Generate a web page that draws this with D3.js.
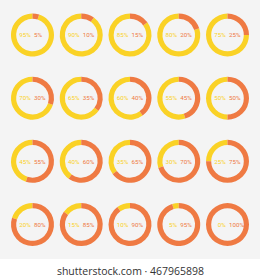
<!DOCTYPE html>
<html>
<head>
<meta charset="utf-8">
<script src="https://cdn.jsdelivr.net/npm/d3@7"></script>
<style>
  body { margin: 0; background: #fff; }
  svg { display: block; }
</style>
</head>
<body>
<div id="chart"></div>
<script>
// orange share of each ring, in reading order
var percents = [5, 10, 15, 20, 25, 30, 35, 40, 45, 50, 55, 60, 65, 70, 75, 80, 85, 90, 95, 100];
var cols = [0, 1, 2, 3, 4];
var rows = [0, 1, 2, 3];
var footer = "shutterstock.com \u00b7 467965898";

var width = 260, height = 280;
var yellow = "#fad226", orange = "#ef7a43";

var svg = d3.select("#chart").append("svg")
    .attr("width", width)
    .attr("height", height);

svg.append("rect")
    .attr("width", width)
    .attr("height", 259)
    .attr("fill", "#f4f4f4");

var x = d3.scalePoint().domain(cols).range([32.5, 227.5]);
var y = d3.scalePoint().domain(rows).range([35, 224.5]);
var angle = d3.scaleLinear().domain([0, 100]).range([0, 2 * Math.PI]);

var arc = d3.arc()
    .innerRadius(16.3)
    .outerRadius(21.5);

var rings = svg.selectAll("g.ring")
    .data(percents)
    .enter().append("g")
    .attr("class", "ring")
    .attr("transform", function(d, i) {
        return "translate(" + x(i % 5) + "," + y(Math.floor(i / 5)) + ")";
    });

// yellow part (remainder)
rings.append("path")
    .attr("fill", yellow)
    .attr("d", function(d) {
        return arc({ startAngle: angle(d), endAngle: 2 * Math.PI });
    });

// orange part starting at 12 o'clock
rings.append("path")
    .attr("fill", orange)
    .attr("d", function(d) {
        return arc({ startAngle: 0, endAngle: angle(d) });
    });

rings.append("text")
    .attr("x", -1.8)
    .attr("y", 2.2)
    .attr("text-anchor", "end")
    .attr("font-family", "Roboto, sans-serif")
    .attr("font-size", 6.2)
    .attr("fill", yellow)
    .text(function(d) { return (100 - d) + "%"; });

rings.append("text")
    .attr("x", 1.5)
    .attr("y", 2.2)
    .attr("font-family", "Roboto, sans-serif")
    .attr("font-size", 6.2)
    .attr("fill", orange)
    .text(function(d) { return d + "%"; });

svg.append("text")
    .attr("x", 130.5)
    .attr("y", 275)
    .attr("text-anchor", "middle")
    .attr("font-family", "'Open Sans', sans-serif")
    .attr("font-size", 10.5)
    .attr("fill", "#333")
    .text(footer);
</script>
</body>
</html>
